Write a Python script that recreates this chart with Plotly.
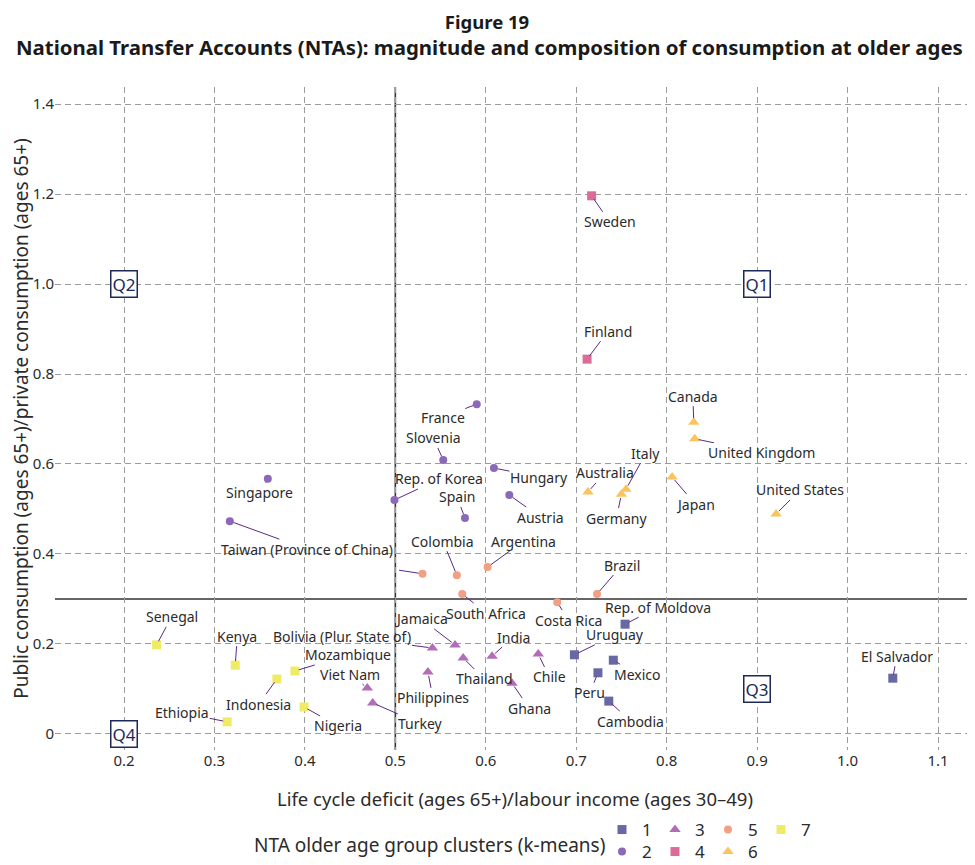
import plotly.graph_objects as go

# ---------------- data ----------------
COUNTRIES = [
    "Rep. of Moldova", "Uruguay", "Mexico", "Peru", "Cambodia", "El Salvador",
    "France", "Slovenia", "Hungary", "Rep. of Korea", "Austria", "Spain", "Singapore",
    "Taiwan (Province of China)",
    "Jamaica", "Bolivia (Plur. State of)", "Thailand", "India", "Chile", "Philippines",
    "Viet Nam", "Turkey", "Ghana",
    "Sweden", "Finland",
    "Colombia", "", "Argentina", "South Africa", "Costa Rica", "Brazil",
    "Canada", "United Kingdom", "Australia", "Italy", "Germany", "Japan", "United States",
    "Senegal", "Kenya", "Mozambique", "Indonesia", "Nigeria", "Ethiopia",
]
LIFE_CYCLE_DEFICIT = [
    0.754, 0.698, 0.741, 0.724, 0.736, 1.050,
    0.590, 0.553, 0.609, 0.499, 0.626, 0.577, 0.359, 0.317,
    0.566, 0.541, 0.575, 0.607, 0.658, 0.536, 0.469, 0.475, 0.629,
    0.717, 0.712,
    0.568, 0.530, 0.602, 0.574, 0.679, 0.723,
    0.830, 0.831, 0.713, 0.755, 0.750, 0.806, 0.921,
    0.236, 0.323, 0.389, 0.369, 0.399, 0.314,
]
PUBLIC_SHARE = [
    0.244, 0.176, 0.164, 0.136, 0.073, 0.124,
    0.733, 0.609, 0.591, 0.520, 0.531, 0.480, 0.567, 0.473,
    0.198, 0.191, 0.169, 0.173, 0.178, 0.138, 0.102, 0.069, 0.113,
    1.196, 0.833,
    0.353, 0.356, 0.371, 0.311, 0.293, 0.311,
    0.693, 0.656, 0.538, 0.544, 0.533, 0.571, 0.489,
    0.198, 0.153, 0.140, 0.122, 0.060, 0.027,
]
CLUSTER = (
    [1] * 6 + [2] * 8 + [3] * 9 + [4] * 2 + [5] * 6 + [6] * 7 + [7] * 6
)

CLUSTER_IDS = [1, 2, 3, 4, 5, 6, 7]
X_TICKS = [0.2, 0.3, 0.4, 0.5, 0.6, 0.7, 0.8, 0.9, 1.0, 1.1]
X_TICK_LABELS = ["0.2", "0.3", "0.4", "0.5", "0.6", "0.7", "0.8", "0.9", "1.0", "1.1"]
Y_TICKS = [0, 0.2, 0.4, 0.6, 0.8, 1.0, 1.2, 1.4]
Y_TICK_LABELS = ["0", "0.2", "0.4", "0.6", "0.8", "1.0", "1.2", "1.4"]
QUAD_LABELS = ["Q1", "Q2", "Q3", "Q4"]
QUAD_X = [0.9, 0.2, 0.9, 0.2]
QUAD_Y = [1.0, 1.0, 0.1, 0.0]
REF_X = 0.5
REF_Y = 0.3

# ---------------- style (not data) ----------------
CLUSTER_STYLE = {
    1: dict(color="#6868a4", symbol="square", size=9),
    2: dict(color="#8b69b8", symbol="circle", size=8),
    3: dict(color="#b36cb8", symbol="triangle-up", size=10),
    4: dict(color="#db6c98", symbol="square", size=9),
    5: dict(color="#f39f82", symbol="circle", size=8),
    6: dict(color="#fbc35e", symbol="triangle-up", size=10),
    7: dict(color="#efeb64", symbol="square", size=9),
}
# label offsets (pixels) from each point to its label centre
LABEL_OFFSET = {
    "Rep. of Moldova": (33, -17), "Uruguay": (41, -20), "Mexico": (24, 14),
    "Peru": (-8, 20), "Cambodia": (22, 20), "El Salvador": (4, -22),
    "France": (-34, 13), "Slovenia": (-10, -22), "Hungary": (45, 9),
    "Rep. of Korea": (45, -21), "Austria": (31, 22), "Spain": (-8, -21),
    "Singapore": (-8, 14), "Taiwan (Province of China)": (77, 28),
    "Jamaica": (-34, -26), "Bolivia (Plur. State of)": (-90, -12),
    "Thailand": (21, 21), "India": (21, -19), "Chile": (11, 23),
    "Philippines": (5, 26), "Viet Nam": (-17, -14), "Turkey": (48, 21),
    "Ghana": (17, 25), "Sweden": (18, 26), "Finland": (21, -28),
    "Colombia": (-14, -34), "": (-26, -4), "Argentina": (36, -26),
    "South Africa": (24, 19), "Costa Rica": (11, 18), "Brazil": (25, -29),
    "Canada": (-1, -26), "United Kingdom": (67, 14), "Australia": (17, -19),
    "Italy": (20, -36), "Germany": (-5, 24), "Japan": (23, 27),
    "United States": (24, -24), "Senegal": (15, -28), "Kenya": (2, -29),
    "Mozambique": (53, -16), "Indonesia": (-18, 25), "Nigeria": (34, 19),
    "Ethiopia": (-45, -9),
}

FONT = "Noto Sans"
TEXT = "#2b2b2b"
SEG = "#5a2a84"
GRID = "#9b9b9b"

# the page body has an 8px margin, so the figure is drawn 8px smaller
W, H = 967, 857

fig = go.Figure()

for cid in CLUSTER_IDS:
    idx = [i for i, c in enumerate(CLUSTER) if c == cid]
    st = CLUSTER_STYLE[cid]
    fig.add_trace(go.Scatter(
        x=[LIFE_CYCLE_DEFICIT[i] for i in idx],
        y=[PUBLIC_SHARE[i] for i in idx],
        text=[COUNTRIES[i] for i in idx],
        mode="markers",
        name=str(cid),
        marker=dict(color=st["color"], symbol=st["symbol"], size=st["size"],
                    line=dict(width=0)),
        legend="legend" if cid % 2 == 1 else "legend2",
        hovertemplate="%{text}<br>%{x:.2f}, %{y:.2f}<extra></extra>",
    ))

annotations = []
for name, xv, yv in zip(COUNTRIES, LIFE_CYCLE_DEFICIT, PUBLIC_SHARE):
    dx, dy = LABEL_OFFSET[name]
    annotations.append(dict(
        x=xv, y=yv, xref="x", yref="y", text=name if name else " ",
        showarrow=True, arrowhead=0, arrowwidth=1, arrowcolor=SEG,
        ax=dx, ay=dy, standoff=4, borderpad=0,
        font=dict(family=FONT, size=14, color=TEXT),
    ))

for q, xv, yv in zip(QUAD_LABELS, QUAD_X, QUAD_Y):
    annotations.append(dict(
        x=xv, y=yv, xref="x", yref="y", text=q, showarrow=False,
        font=dict(family=FONT, size=17, color="#1d2a57"),
        bordercolor="#1d2a57", borderwidth=1.5, borderpad=1, bgcolor="white",
    ))

# second title line
annotations.append(dict(
    x=0.4728, y=1.0603, xref="paper", yref="paper", showarrow=False,
    xanchor="center", yanchor="middle",
    text="<b>National Transfer Accounts (NTAs): magnitude and composition of consumption at older ages</b>",
    font=dict(family=FONT, size=20.4, color="#1a1a1a"),
))
# legend title
annotations.append(dict(
    x=0.6, y=-0.1433, xref="paper", yref="paper", showarrow=False,
    xanchor="right", yanchor="middle",
    text="NTA older age group clusters (k-means)",
    font=dict(family=FONT, size=19, color=TEXT),
))

shapes = [
    dict(type="line", xref="x", yref="paper", x0=REF_X, x1=REF_X, y0=0, y1=1,
         line=dict(color="#333333", width=1.6), layer="between"),
    dict(type="line", xref="paper", yref="y", x0=0, x1=1, y0=REF_Y, y1=REF_Y,
         line=dict(color="#333333", width=1.6), layer="between"),
]

fig.update_layout(
    width=W, height=H,
    margin=dict(l=47, r=0, t=79, b=115),
    paper_bgcolor="white", plot_bgcolor="white",
    font=dict(family=FONT, color=TEXT),
    title=dict(text="<b>Figure 19</b>", x=(487 - 8) / W, xref="container", xanchor="center",
               y=1 - 15 / H, yref="container", yanchor="middle",
               font=dict(family=FONT, size=18.5, color="#1a1a1a")),
    xaxis=dict(range=[0.1237, 1.1409], tickvals=X_TICKS, ticktext=X_TICK_LABELS,
               showgrid=True, gridcolor=GRID, griddash="6px,4px", gridwidth=1,
               zeroline=False, showline=False, ticks="",
               tickfont=dict(family=FONT, size=15, color=TEXT),
               title=dict(text="Life cycle deficit (ages 65+)/labour income (ages 30–49)",
                          font=dict(family=FONT, size=18.5, color=TEXT), standoff=24)),
    yaxis=dict(range=[-0.0356, 1.4378], tickvals=Y_TICKS, ticktext=Y_TICK_LABELS,
               showgrid=True, gridcolor=GRID, griddash="6px,4px", gridwidth=1,
               zeroline=False, showline=False, ticks="",
               tickfont=dict(family=FONT, size=15, color=TEXT),
               title=dict(text="Public consumption (ages 65+)/private consumption (ages 65+)",
                          font=dict(family=FONT, size=19, color=TEXT), standoff=6)),
    legend=dict(orientation="h", xref="container", yref="container",
                x=(602 - 8) / W, y=1 - (830 - 8) / H, xanchor="left", yanchor="middle",
                entrywidth=8, entrywidthmode="pixels", traceorder="normal",
                font=dict(family=FONT, size=17, color=TEXT), bgcolor="rgba(0,0,0,0)"),
    legend2=dict(orientation="h", xref="container", yref="container",
                 x=(602 - 8) / W, y=1 - (852 - 8) / H, xanchor="left", yanchor="middle",
                 entrywidth=8, entrywidthmode="pixels", traceorder="normal",
                 font=dict(family=FONT, size=17, color=TEXT), bgcolor="rgba(0,0,0,0)"),
    annotations=annotations,
    shapes=shapes,
    showlegend=True,
)

fig.write_html("out.html")
